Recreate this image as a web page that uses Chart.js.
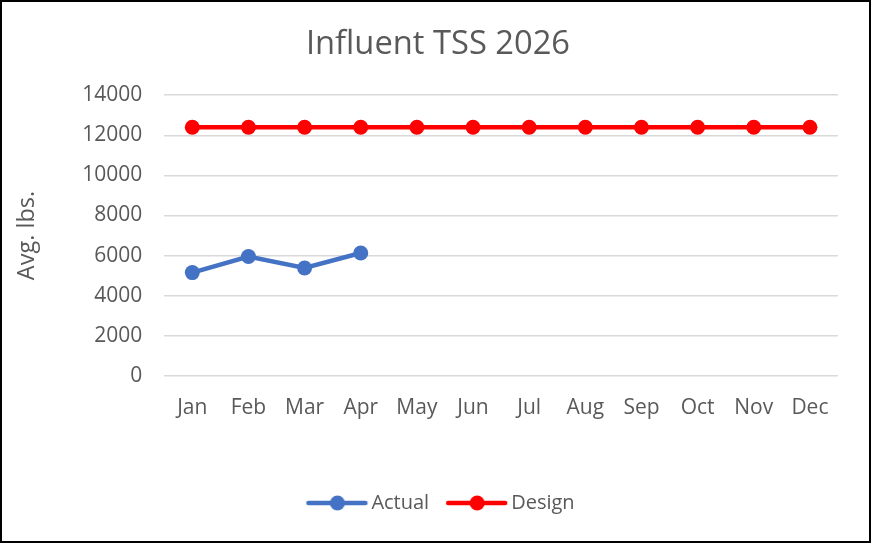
<!DOCTYPE html>
<html>
<head>
<meta charset="utf-8">
<script src="https://cdn.jsdelivr.net/npm/chart.js@4/dist/chart.umd.min.js"></script>
<style>
  html, body { margin: 0; padding: 0; background: #fff; }
  #wrap { box-sizing: border-box; width: 871px; height: 543px; border: 2px solid #000; background: #fff; }
</style>
</head>
<body>
<div id="wrap"><canvas id="chart" width="867" height="539"></canvas></div>
<script>
const months = ['Jan', 'Feb', 'Mar', 'Apr', 'May', 'Jun', 'Jul', 'Aug', 'Sep', 'Oct', 'Nov', 'Dec'];
const actualValues = [5150, 5950, 5380, 6130];
const designValues = [12400, 12400, 12400, 12400, 12400, 12400, 12400, 12400, 12400, 12400, 12400, 12400];

const actualColor = '#4472C4';
const designColor = '#FF0000';
const textColor = '#595959';
const font = "'Open Sans', 'Noto Sans', sans-serif";

// legend marker: line with a dot in the middle (drawn offset so text sits close)
function legendMarker(color) {
  const c = document.createElement('canvas');
  c.width = 80; c.height = 18;
  const g = c.getContext('2d');
  g.strokeStyle = color;
  g.lineWidth = 4.5;
  g.lineCap = 'round';
  g.beginPath(); g.moveTo(13, 9); g.lineTo(70, 9); g.stroke();
  g.fillStyle = color;
  g.beginPath(); g.arc(42, 9, 7.5, 0, Math.PI * 2); g.fill();
  return c;
}

// title and legend sit a bit right of the canvas centre in the original
const shiftBlocks = {
  id: 'shiftBlocks',
  afterLayout(chart) {
    if (chart.legend) {
      chart.legend.left += 22;
      chart.legend.right += 22;
    }
    if (chart.titleBlock) {
      chart.titleBlock.left += 18;
      chart.titleBlock.right += 18;
    }
  }
};

const ctx = document.getElementById('chart').getContext('2d');
new Chart(ctx, {
  type: 'line',
  data: {
    labels: months,
    datasets: [
      {
        label: 'Actual',
        data: actualValues,
        borderColor: actualColor,
        backgroundColor: actualColor,
        borderWidth: 4.5,
        pointRadius: 7.5,
        pointBorderWidth: 0,
        tension: 0
      },
      {
        label: 'Design',
        data: designValues,
        borderColor: designColor,
        backgroundColor: designColor,
        borderWidth: 4.5,
        pointRadius: 7.5,
        pointBorderWidth: 0,
        tension: 0
      }
    ]
  },
  plugins: [shiftBlocks],
  options: {
    responsive: false,
    animation: false,
    layout: { padding: { left: 0, right: 31, top: 0, bottom: 18 } },
    scales: {
      x: {
        offset: true,
        grid: { display: false, drawTicks: false },
        border: { display: false },
        ticks: { color: textColor, font: { family: font, size: 21 }, padding: 20 },
        afterFit: scale => { scale.height += 32; }
      },
      y: {
        min: 0,
        max: 14000,
        grid: { color: '#d9d9d9', lineWidth: 1.5, drawTicks: false },
        border: { display: false },
        ticks: { stepSize: 2000, color: textColor, font: { family: font, size: 21 }, padding: 22, callback: v => String(v) },
        title: { display: true, text: 'Avg. lbs.', color: textColor, font: { family: font, size: 23.5 }, padding: { top: 11, bottom: 19 } }
      }
    },
    plugins: {
      title: {
        display: true,
        text: 'Influent TSS 2026',
        color: textColor,
        font: { family: font, size: 32.7, weight: 'normal' },
        padding: { top: 23, bottom: 31 }
      },
      legend: {
        position: 'bottom',
        labels: {
          color: textColor,
          font: { family: font, size: 20 },
          usePointStyle: true,
          pointStyleWidth: 52,
          padding: 20,
          generateLabels: chart => chart.data.datasets.map((ds, i) => ({
            text: ds.label,
            fillStyle: ds.borderColor,
            strokeStyle: ds.borderColor,
            fontColor: textColor,
            pointStyle: legendMarker(ds.borderColor),
            datasetIndex: i,
            hidden: false
          }))
        }
      },
      tooltip: { enabled: false }
    }
  }
});
</script>
</body>
</html>
